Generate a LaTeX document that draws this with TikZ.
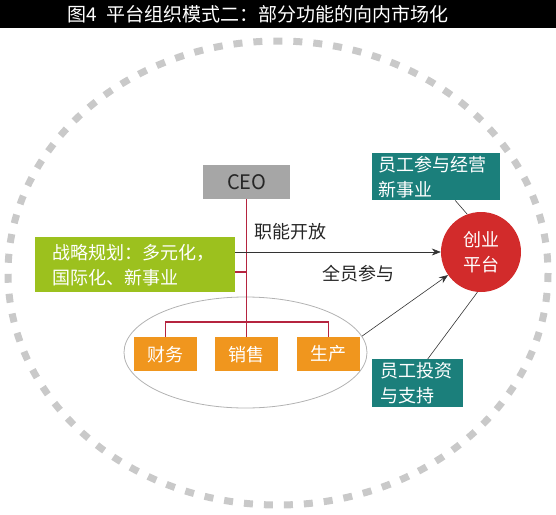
\documentclass[tikz,border=0pt]{standalone}
\usepackage{fontspec}
\setmainfont{Noto Sans CJK SC}
\usetikzlibrary{arrows.meta,shapes.geometric}
\definecolor{ceogray}{HTML}{A6A6A6}
\definecolor{leafgreen}{HTML}{9CC11E}
\definecolor{deptorange}{HTML}{F0961E}
\definecolor{tealbox}{HTML}{1B7F7B}
\definecolor{platred}{HTML}{D22B2B}
\definecolor{linered}{HTML}{B5243F}
\definecolor{dashgray}{HTML}{C9C9C9}
\begin{document}
\begin{tikzpicture}[x=1pt, y=-1pt,
  zh/.style={font=\fontsize{18}{25}\selectfont},
  fillbox/.style={zh, text=white, inner sep=0pt, anchor=north west},
  deptbox/.style={fillbox, fill=deptorange, minimum width=63pt, minimum height=34pt},
  redline/.style={draw=linered, line width=1.4pt},
  link/.style={draw=black!80, line width=0.6pt},
  arrow/.style={link, -{Stealth[length=9pt, width=7pt]}}]
\useasboundingbox (0,0) rectangle (556,514);
% title bar
\fill[black] (0,0) rectangle (556,28);
\node[text=white, font=\fontsize{19}{22}\selectfont] (title) at (258,14) {图4\ \ 平台组织模式二：部分功能的向内市场化};
% outer dashed ring
\draw[dashgray, line width=7pt, dash pattern=on 9pt off 11pt] (278,273) ellipse [x radius=270, y radius=232];
% boxes
\node[fillbox, fill=ceogray, text=black!85, font=\fontsize{20}{24}\selectfont, minimum width=87pt, minimum height=34pt] (ceo) at (203,165) {CEO};
\node[fillbox, fill=leafgreen, text width=165pt, inner xsep=17.5pt, minimum height=55pt, align=left] (strategy) at (35,237) {战略规划：多元化，\\国际化、新事业};
\node[deptbox] (finance) at (134,337) {财务};
\node[deptbox] (sales) at (215,337) {销售};
\node[deptbox] (production) at (297,337) {生产};
\node[draw=gray!60, line width=0.8pt, ellipse, minimum width=243pt, minimum height=111pt] (dept) at (245.5,352.5) {};
\node[circle, fill=platred, text=white, zh, minimum size=80pt, inner sep=0pt, align=center] (platform) at (481,252) {创业\\平台};
\node[fillbox, fill=tealbox, text width=116pt, inner xsep=6pt, minimum height=47pt, align=left] (joinbox) at (372,153) {员工参与经营\\新事业};
\node[fillbox, fill=tealbox, text width=75pt, inner xsep=8pt, minimum height=48pt, align=left] (investbox) at (372,359) {员工投资\\与支持};
% labels
\node[zh, text=black!85] (openlbl) at (290,232) {职能开放};
\node[zh, text=black!85] (alllbl) at (358,274) {全员参与};
% red tree
\coordinate (stem) at (247,272);
\coordinate (bar) at (247,322);
\draw[redline] (ceo.south) -- (sales.north);
\draw[redline] (strategy.east |- stem) -- (stem);
\draw[redline] (finance.north) |- (bar) -| (production.north);
% connectors
\draw[arrow] (platform.west -| strategy.east) -- (platform.west);
\draw[arrow] (dept.8) -- (platform.215);
\draw[link] ([xshift=19pt]joinbox.south) -- (platform.110);
\draw[link] ([xshift=10pt]investbox.north) -- (platform.265);
\end{tikzpicture}
\end{document}
